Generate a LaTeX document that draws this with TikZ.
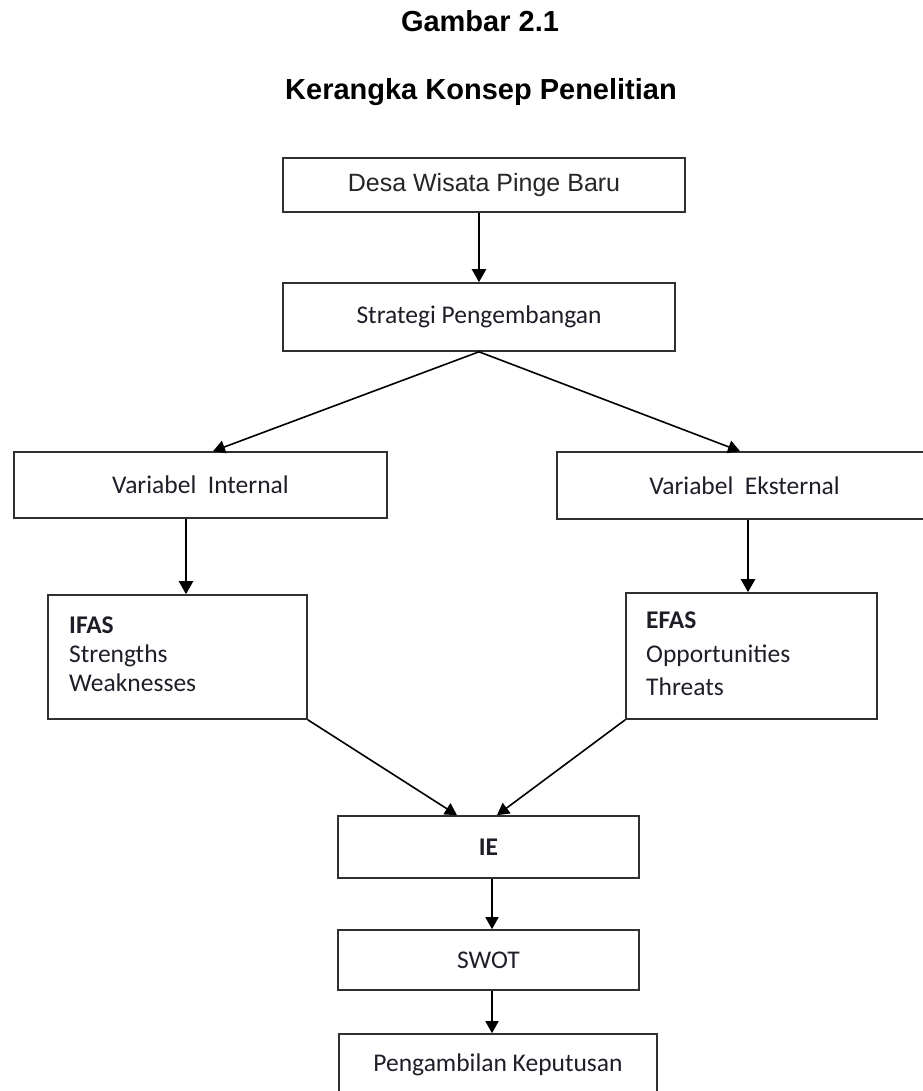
\documentclass[tikz,border=0pt]{standalone}
\usepackage{fontspec}
\newfontfamily\arialfont{Liberation Sans}
\newfontfamily\califont{Carlito}
\usetikzlibrary{arrows.meta}
\definecolor{boxline}{HTML}{303030}
\definecolor{txt}{HTML}{1E1E28}
\tikzset{
  x=1pt, y=-1pt,
  boxnode/.style={draw=boxline, line width=1.6pt, inner sep=0pt, text=txt,
    font=\califont\fontsize{25.5}{30}\selectfont},
  titletext/.style={font=\arialfont\bfseries\fontsize{29}{34}\selectfont, text=black, inner sep=0pt},
  arr/.style={draw=black, line width=1.6pt, -{Triangle[length=12pt,width=13pt]}},
  arrthick/.style={draw=black, line width=2.4pt, -{Triangle[length=13pt,width=14pt]}},
}
\begin{document}
\begin{tikzpicture}
\useasboundingbox (0,0) rectangle (922,1091);
\fill[white] (0,0) rectangle (922,1091);
% titles
\node[titletext, anchor=base] (t1) at (480,32) {Gambar 2.1};
\node[titletext, anchor=base] (t2) at (481,100) {Kerangka Konsep Penelitian};
% boxes
\node[boxnode, minimum width=402pt, minimum height=54pt,
  font=\arialfont\fontsize{25}{30}\selectfont, text=black!85] (b1) at (484,185) {Desa Wisata Pinge Baru};
\node[boxnode, minimum width=392pt, minimum height=68pt] (b2) at (479,317) {Strategi Pengembangan};
\node[boxnode, minimum width=373pt, minimum height=66pt] (vi) at (200.5,485) {Variabel\ \ Internal};
\node[boxnode, minimum width=375pt, minimum height=67pt] (ve) at (744.5,485.5) {Variabel\ \ Eksternal};
\node[boxnode, minimum width=259pt, minimum height=124pt] (ifas) at (177.5,657) {};
\node[boxnode, minimum width=251pt, minimum height=126pt] (efas) at (751.5,656) {};
\node[boxnode, minimum width=301pt, minimum height=62pt] (ie) at (488.5,847) {\bfseries IE};
\node[boxnode, minimum width=301pt, minimum height=60pt] (swot) at (488.5,960) {SWOT};
\node[boxnode, minimum width=318pt, minimum height=62pt] (pk) at (498,1065) {Pengambilan Keputusan};
% box texts
\node[anchor=north west, inner sep=0pt, align=left, text=txt,
  font=\califont\fontsize{25.5}{29}\selectfont] (ifastext) at (69,616.6)
  {\bfseries IFAS\\Strengths\\Weaknesses};
\node[anchor=north west, inner sep=0pt, align=left, text=txt,
  font=\califont\fontsize{25.5}{33.5}\selectfont] (efastext) at (646,611.6)
  {\bfseries EFAS\\Opportunities\\Threats};
% connector end points
\coordinate (b1s) at (b1.south -| b2.north);
\coordinate (vin) at ([xshift=12.5pt]vi.north);
\coordinate (ven) at ([xshift=-4.5pt]ve.north);
\coordinate (vis) at ([xshift=-14.5pt]vi.south);
\coordinate (ifn) at ([xshift=-14.5pt]vi.south |- ifas.north);
\coordinate (ves) at ([xshift=3.5pt]ve.south);
\coordinate (efn) at ([xshift=3.5pt]ve.south |- efas.north);
\coordinate (ien1) at ([xshift=-31.5pt]ie.north);
\coordinate (ien2) at ([xshift=8.5pt]ie.north);
\coordinate (ies) at ([xshift=3.5pt]ie.south);
\coordinate (swn) at ([xshift=3.5pt]swot.north);
\coordinate (sws) at ([xshift=3.5pt]swot.south);
\coordinate (pkn) at ([xshift=3.5pt]swot.south |- pk.north);
% connectors
\draw[arrthick] (b1s) -- (b2.north);
\draw[arr] (b2.south) -- (vin);
\draw[arr] (b2.south) -- (ven);
\draw[arrthick] (vis) -- (ifn);
\draw[arrthick] (ves) -- (efn);
\draw[arr] (ifas.south east) -- (ien1);
\draw[arr] (efas.south west) -- (ien2);
\draw[arr] (ies) -- (swn);
\draw[arr] (sws) -- (pkn);
\end{tikzpicture}
\end{document}
